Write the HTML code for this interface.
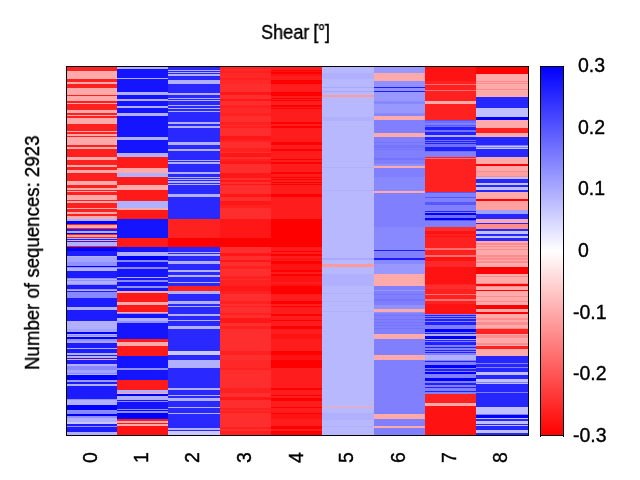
<!DOCTYPE html>
<html><head><meta charset="utf-8">
<style>
html,body{margin:0;padding:0;background:#fff;}
body{width:640px;height:480px;position:relative;overflow:hidden;font-family:"Liberation Sans",sans-serif;color:#000;}
svg{position:absolute;left:0;top:0;}
.t{position:absolute;white-space:nowrap;font-size:19.5px;line-height:1;will-change:transform;-webkit-text-stroke:0.35px #000;}
.xl{position:absolute;white-space:nowrap;font-size:19.5px;line-height:1;transform-origin:0 0;transform:rotate(-90deg);will-change:transform;-webkit-text-stroke:0.35px #000;}
</style></head><body>
<svg width="640" height="480" viewBox="0 0 640 480" shape-rendering="crispEdges">
<defs><linearGradient id="cb" x1="0" y1="0" x2="0" y2="1">
<stop offset="0" stop-color="#0000ff"/><stop offset="0.5" stop-color="#ffffff"/><stop offset="1" stop-color="#ff0000"/>
</linearGradient>
</defs>
<g>
<rect x="67" y="67" width="50" height="4" fill="#ff2020"/>
<rect x="67" y="71" width="50" height="8" fill="#ffaaaa"/>
<rect x="67" y="79" width="50" height="3" fill="#ff2020"/>
<rect x="67" y="82" width="50" height="2" fill="#ffaaaa"/>
<rect x="67" y="84" width="50" height="4" fill="#ff2020"/>
<rect x="67" y="88" width="50" height="7" fill="#ffaaaa"/>
<rect x="67" y="95" width="50" height="1" fill="#ff2020"/>
<rect x="67" y="96" width="50" height="5" fill="#ffaaaa"/>
<rect x="67" y="101" width="50" height="2" fill="#ff2020"/>
<rect x="67" y="103" width="50" height="1" fill="#ffaaaa"/>
<rect x="67" y="104" width="50" height="6" fill="#ff2020"/>
<rect x="67" y="110" width="50" height="3" fill="#ffaaaa"/>
<rect x="67" y="113" width="50" height="2" fill="#ff2020"/>
<rect x="67" y="115" width="50" height="1" fill="#ffaaaa"/>
<rect x="67" y="116" width="50" height="2" fill="#ff2020"/>
<rect x="67" y="118" width="50" height="6" fill="#ffaaaa"/>
<rect x="67" y="124" width="50" height="7" fill="#ff2020"/>
<rect x="67" y="131" width="50" height="1" fill="#ffaaaa"/>
<rect x="67" y="132" width="50" height="2" fill="#ff2020"/>
<rect x="67" y="134" width="50" height="2" fill="#ffaaaa"/>
<rect x="67" y="136" width="50" height="1" fill="#ff2020"/>
<rect x="67" y="137" width="50" height="8" fill="#ffaaaa"/>
<rect x="67" y="145" width="50" height="2" fill="#ff2020"/>
<rect x="67" y="147" width="50" height="2" fill="#ffaaaa"/>
<rect x="67" y="149" width="50" height="8" fill="#ff2020"/>
<rect x="67" y="157" width="50" height="3" fill="#ffaaaa"/>
<rect x="67" y="160" width="50" height="5" fill="#ff2020"/>
<rect x="67" y="165" width="50" height="2" fill="#ffaaaa"/>
<rect x="67" y="167" width="50" height="3" fill="#ff2020"/>
<rect x="67" y="170" width="50" height="3" fill="#ffaaaa"/>
<rect x="67" y="173" width="50" height="8" fill="#ff2020"/>
<rect x="67" y="181" width="50" height="4" fill="#ffaaaa"/>
<rect x="67" y="185" width="50" height="3" fill="#ff2020"/>
<rect x="67" y="188" width="50" height="2" fill="#ffaaaa"/>
<rect x="67" y="190" width="50" height="1" fill="#ff2020"/>
<rect x="67" y="191" width="50" height="1" fill="#ffaaaa"/>
<rect x="67" y="192" width="50" height="3" fill="#ff2020"/>
<rect x="67" y="195" width="50" height="5" fill="#ffaaaa"/>
<rect x="67" y="200" width="50" height="1" fill="#ff2020"/>
<rect x="67" y="201" width="50" height="2" fill="#ffaaaa"/>
<rect x="67" y="203" width="50" height="5" fill="#ff2020"/>
<rect x="67" y="208" width="50" height="1" fill="#ffaaaa"/>
<rect x="67" y="209" width="50" height="3" fill="#ff2020"/>
<rect x="67" y="212" width="50" height="2" fill="#ffaaaa"/>
<rect x="67" y="214" width="50" height="2" fill="#ff2020"/>
<rect x="67" y="216" width="50" height="3" fill="#ffaaaa"/>
<rect x="67" y="219" width="50" height="2" fill="#b0b0ff"/>
<rect x="67" y="221" width="50" height="3" fill="#0000ff"/>
<rect x="67" y="224" width="50" height="1" fill="#ff2020"/>
<rect x="67" y="225" width="50" height="3" fill="#ffaaaa"/>
<rect x="67" y="228" width="50" height="1" fill="#ff2020"/>
<rect x="67" y="229" width="50" height="2" fill="#1c1cff"/>
<rect x="67" y="231" width="50" height="2" fill="#b0b0ff"/>
<rect x="67" y="233" width="50" height="1" fill="#0000ff"/>
<rect x="67" y="234" width="50" height="1" fill="#ff2020"/>
<rect x="67" y="235" width="50" height="2" fill="#ffaaaa"/>
<rect x="67" y="237" width="50" height="1" fill="#ff2020"/>
<rect x="67" y="238" width="50" height="1" fill="#b0b0ff"/>
<rect x="67" y="239" width="50" height="1" fill="#1c1cff"/>
<rect x="67" y="240" width="50" height="1" fill="#ffaaaa"/>
<rect x="67" y="241" width="50" height="1" fill="#1c1cff"/>
<rect x="67" y="242" width="50" height="4" fill="#b0b0ff"/>
<rect x="67" y="246" width="50" height="1" fill="#ff2020"/>
<rect x="67" y="247" width="50" height="4" fill="#0000ff"/>
<rect x="67" y="251" width="50" height="5" fill="#1c1cff"/>
<rect x="67" y="256" width="50" height="1" fill="#b0b0ff"/>
<rect x="67" y="257" width="50" height="5" fill="#a4a4ff"/>
<rect x="67" y="262" width="50" height="4" fill="#9090ff"/>
<rect x="67" y="266" width="50" height="1" fill="#0000ff"/>
<rect x="67" y="267" width="50" height="1" fill="#9090ff"/>
<rect x="67" y="268" width="50" height="3" fill="#b0b0ff"/>
<rect x="67" y="271" width="50" height="7" fill="#1c1cff"/>
<rect x="67" y="278" width="50" height="1" fill="#9090ff"/>
<rect x="67" y="279" width="50" height="1" fill="#b0b0ff"/>
<rect x="67" y="280" width="50" height="1" fill="#9090ff"/>
<rect x="67" y="281" width="50" height="3" fill="#b0b0ff"/>
<rect x="67" y="284" width="50" height="1" fill="#9090ff"/>
<rect x="67" y="285" width="50" height="4" fill="#1c1cff"/>
<rect x="67" y="289" width="50" height="1" fill="#9090ff"/>
<rect x="67" y="290" width="50" height="1" fill="#b0b0ff"/>
<rect x="67" y="291" width="50" height="1" fill="#1c1cff"/>
<rect x="67" y="292" width="50" height="6" fill="#8888ff"/>
<rect x="67" y="298" width="50" height="9" fill="#1c1cff"/>
<rect x="67" y="307" width="50" height="3" fill="#b0b0ff"/>
<rect x="67" y="310" width="50" height="11" fill="#1c1cff"/>
<rect x="67" y="321" width="50" height="8" fill="#b0b0ff"/>
<rect x="67" y="329" width="50" height="3" fill="#a4a4ff"/>
<rect x="67" y="332" width="50" height="2" fill="#0000ff"/>
<rect x="67" y="334" width="50" height="1" fill="#b0b0ff"/>
<rect x="67" y="335" width="50" height="1" fill="#9090ff"/>
<rect x="67" y="336" width="50" height="1" fill="#b0b0ff"/>
<rect x="67" y="337" width="50" height="2" fill="#0000ff"/>
<rect x="67" y="339" width="50" height="2" fill="#9090ff"/>
<rect x="67" y="341" width="50" height="2" fill="#a4a4ff"/>
<rect x="67" y="343" width="50" height="5" fill="#1c1cff"/>
<rect x="67" y="348" width="50" height="1" fill="#b0b0ff"/>
<rect x="67" y="349" width="50" height="4" fill="#1c1cff"/>
<rect x="67" y="353" width="50" height="2" fill="#b0b0ff"/>
<rect x="67" y="355" width="50" height="1" fill="#1c1cff"/>
<rect x="67" y="356" width="50" height="2" fill="#b0b0ff"/>
<rect x="67" y="358" width="50" height="1" fill="#1c1cff"/>
<rect x="67" y="359" width="50" height="1" fill="#ffaaaa"/>
<rect x="67" y="360" width="50" height="4" fill="#1c1cff"/>
<rect x="67" y="364" width="50" height="2" fill="#b0b0ff"/>
<rect x="67" y="366" width="50" height="4" fill="#8888ff"/>
<rect x="67" y="370" width="50" height="3" fill="#a4a4ff"/>
<rect x="67" y="373" width="50" height="1" fill="#8888ff"/>
<rect x="67" y="374" width="50" height="1" fill="#b0b0ff"/>
<rect x="67" y="375" width="50" height="5" fill="#0000ff"/>
<rect x="67" y="380" width="50" height="2" fill="#9898ff"/>
<rect x="67" y="382" width="50" height="2" fill="#1c1cff"/>
<rect x="67" y="384" width="50" height="2" fill="#b0b0ff"/>
<rect x="67" y="386" width="50" height="13" fill="#1c1cff"/>
<rect x="67" y="399" width="50" height="1" fill="#9090ff"/>
<rect x="67" y="400" width="50" height="5" fill="#b0b0ff"/>
<rect x="67" y="405" width="50" height="5" fill="#0000ff"/>
<rect x="67" y="410" width="50" height="1" fill="#9090ff"/>
<rect x="67" y="411" width="50" height="3" fill="#8888ff"/>
<rect x="67" y="414" width="50" height="2" fill="#0000ff"/>
<rect x="67" y="416" width="50" height="2" fill="#9090ff"/>
<rect x="67" y="418" width="50" height="4" fill="#b0b0ff"/>
<rect x="67" y="422" width="50" height="2" fill="#c8c8ff"/>
<rect x="67" y="424" width="50" height="2" fill="#1c1cff"/>
<rect x="67" y="426" width="50" height="1" fill="#9090ff"/>
<rect x="67" y="427" width="50" height="5" fill="#1c1cff"/>
<rect x="67" y="432" width="50" height="3" fill="#b0b0ff"/>
<rect x="117" y="67" width="51" height="2" fill="#b0b0ff"/>
<rect x="117" y="69" width="51" height="9" fill="#1414ff"/>
<rect x="117" y="78" width="51" height="1" fill="#b0b0ff"/>
<rect x="117" y="79" width="51" height="13" fill="#1414ff"/>
<rect x="117" y="92" width="51" height="3" fill="#b0b0ff"/>
<rect x="117" y="95" width="51" height="4" fill="#1414ff"/>
<rect x="117" y="99" width="51" height="2" fill="#b0b0ff"/>
<rect x="117" y="101" width="51" height="5" fill="#1414ff"/>
<rect x="117" y="106" width="51" height="2" fill="#b0b0ff"/>
<rect x="117" y="108" width="51" height="5" fill="#1414ff"/>
<rect x="117" y="113" width="51" height="3" fill="#b0b0ff"/>
<rect x="117" y="116" width="51" height="21" fill="#1414ff"/>
<rect x="117" y="137" width="51" height="3" fill="#b0b0ff"/>
<rect x="117" y="140" width="51" height="13" fill="#1414ff"/>
<rect x="117" y="153" width="51" height="4" fill="#b0b0ff"/>
<rect x="117" y="157" width="51" height="11" fill="#ff1a1a"/>
<rect x="117" y="168" width="51" height="5" fill="#ffaaaa"/>
<rect x="117" y="173" width="51" height="4" fill="#b0b0ff"/>
<rect x="117" y="177" width="51" height="8" fill="#ff1a1a"/>
<rect x="117" y="185" width="51" height="5" fill="#ffaaaa"/>
<rect x="117" y="190" width="51" height="11" fill="#ff1a1a"/>
<rect x="117" y="201" width="51" height="7" fill="#b0b0ff"/>
<rect x="117" y="208" width="51" height="2" fill="#ffaaaa"/>
<rect x="117" y="210" width="51" height="9" fill="#ff1a1a"/>
<rect x="117" y="219" width="51" height="19" fill="#1414ff"/>
<rect x="117" y="238" width="51" height="9" fill="#ff1a1a"/>
<rect x="117" y="247" width="51" height="5" fill="#1414ff"/>
<rect x="117" y="252" width="51" height="4" fill="#b0b0ff"/>
<rect x="117" y="256" width="51" height="4" fill="#0000ff"/>
<rect x="117" y="260" width="51" height="2" fill="#8888ff"/>
<rect x="117" y="262" width="51" height="5" fill="#1414ff"/>
<rect x="117" y="267" width="51" height="2" fill="#8888ff"/>
<rect x="117" y="269" width="51" height="8" fill="#1414ff"/>
<rect x="117" y="277" width="51" height="1" fill="#b0b0ff"/>
<rect x="117" y="278" width="51" height="2" fill="#1414ff"/>
<rect x="117" y="280" width="51" height="2" fill="#8888ff"/>
<rect x="117" y="282" width="51" height="4" fill="#1414ff"/>
<rect x="117" y="286" width="51" height="2" fill="#9090ff"/>
<rect x="117" y="288" width="51" height="3" fill="#1414ff"/>
<rect x="117" y="291" width="51" height="2" fill="#ffaaaa"/>
<rect x="117" y="293" width="51" height="9" fill="#ff1a1a"/>
<rect x="117" y="302" width="51" height="3" fill="#ffaaaa"/>
<rect x="117" y="305" width="51" height="7" fill="#ff1a1a"/>
<rect x="117" y="312" width="51" height="1" fill="#ffaaaa"/>
<rect x="117" y="313" width="51" height="1" fill="#9090ff"/>
<rect x="117" y="314" width="51" height="4" fill="#1414ff"/>
<rect x="117" y="318" width="51" height="3" fill="#b0b0ff"/>
<rect x="117" y="321" width="51" height="2" fill="#9090ff"/>
<rect x="117" y="323" width="51" height="16" fill="#1414ff"/>
<rect x="117" y="339" width="51" height="3" fill="#ff1a1a"/>
<rect x="117" y="342" width="51" height="4" fill="#ffaaaa"/>
<rect x="117" y="346" width="51" height="10" fill="#ff1a1a"/>
<rect x="117" y="356" width="51" height="12" fill="#1414ff"/>
<rect x="117" y="368" width="51" height="2" fill="#9090ff"/>
<rect x="117" y="370" width="51" height="10" fill="#1414ff"/>
<rect x="117" y="380" width="51" height="10" fill="#ff1a1a"/>
<rect x="117" y="390" width="51" height="3" fill="#b0b0ff"/>
<rect x="117" y="393" width="51" height="1" fill="#ffaaaa"/>
<rect x="117" y="394" width="51" height="2" fill="#0000ff"/>
<rect x="117" y="396" width="51" height="4" fill="#b0b0ff"/>
<rect x="117" y="400" width="51" height="1" fill="#1414ff"/>
<rect x="117" y="401" width="51" height="1" fill="#9090ff"/>
<rect x="117" y="402" width="51" height="7" fill="#1414ff"/>
<rect x="117" y="409" width="51" height="1" fill="#9090ff"/>
<rect x="117" y="410" width="51" height="1" fill="#0000ff"/>
<rect x="117" y="411" width="51" height="2" fill="#9090ff"/>
<rect x="117" y="413" width="51" height="6" fill="#0000ff"/>
<rect x="117" y="419" width="51" height="2" fill="#ff1a1a"/>
<rect x="117" y="421" width="51" height="2" fill="#ffaaaa"/>
<rect x="117" y="423" width="51" height="1" fill="#ff1a1a"/>
<rect x="117" y="424" width="51" height="2" fill="#ffaaaa"/>
<rect x="117" y="426" width="51" height="9" fill="#ff1212"/>
<rect x="168" y="67" width="52" height="3" fill="#2828ff"/>
<rect x="168" y="70" width="52" height="1" fill="#b0b0ff"/>
<rect x="168" y="71" width="52" height="1" fill="#2828ff"/>
<rect x="168" y="72" width="52" height="1" fill="#b0b0ff"/>
<rect x="168" y="73" width="52" height="1" fill="#2828ff"/>
<rect x="168" y="74" width="52" height="2" fill="#b0b0ff"/>
<rect x="168" y="76" width="52" height="4" fill="#2828ff"/>
<rect x="168" y="80" width="52" height="4" fill="#b0b0ff"/>
<rect x="168" y="84" width="52" height="9" fill="#2828ff"/>
<rect x="168" y="93" width="52" height="2" fill="#b0b0ff"/>
<rect x="168" y="95" width="52" height="3" fill="#2828ff"/>
<rect x="168" y="98" width="52" height="1" fill="#b0b0ff"/>
<rect x="168" y="99" width="52" height="1" fill="#2828ff"/>
<rect x="168" y="100" width="52" height="1" fill="#b0b0ff"/>
<rect x="168" y="101" width="52" height="4" fill="#2828ff"/>
<rect x="168" y="105" width="52" height="1" fill="#b0b0ff"/>
<rect x="168" y="106" width="52" height="2" fill="#2828ff"/>
<rect x="168" y="108" width="52" height="1" fill="#b0b0ff"/>
<rect x="168" y="109" width="52" height="2" fill="#2828ff"/>
<rect x="168" y="111" width="52" height="1" fill="#b0b0ff"/>
<rect x="168" y="112" width="52" height="10" fill="#2828ff"/>
<rect x="168" y="122" width="52" height="2" fill="#b0b0ff"/>
<rect x="168" y="124" width="52" height="2" fill="#2828ff"/>
<rect x="168" y="126" width="52" height="2" fill="#b0b0ff"/>
<rect x="168" y="128" width="52" height="14" fill="#2828ff"/>
<rect x="168" y="142" width="52" height="3" fill="#b0b0ff"/>
<rect x="168" y="145" width="52" height="4" fill="#2828ff"/>
<rect x="168" y="149" width="52" height="2" fill="#b0b0ff"/>
<rect x="168" y="151" width="52" height="9" fill="#2828ff"/>
<rect x="168" y="160" width="52" height="1" fill="#b0b0ff"/>
<rect x="168" y="161" width="52" height="1" fill="#2828ff"/>
<rect x="168" y="162" width="52" height="2" fill="#b0b0ff"/>
<rect x="168" y="164" width="52" height="8" fill="#2828ff"/>
<rect x="168" y="172" width="52" height="2" fill="#b0b0ff"/>
<rect x="168" y="174" width="52" height="3" fill="#2828ff"/>
<rect x="168" y="177" width="52" height="1" fill="#b0b0ff"/>
<rect x="168" y="178" width="52" height="1" fill="#2828ff"/>
<rect x="168" y="179" width="52" height="1" fill="#b0b0ff"/>
<rect x="168" y="180" width="52" height="1" fill="#2828ff"/>
<rect x="168" y="181" width="52" height="2" fill="#b0b0ff"/>
<rect x="168" y="183" width="52" height="1" fill="#2828ff"/>
<rect x="168" y="184" width="52" height="1" fill="#b0b0ff"/>
<rect x="168" y="185" width="52" height="9" fill="#2828ff"/>
<rect x="168" y="194" width="52" height="3" fill="#b0b0ff"/>
<rect x="168" y="197" width="52" height="22" fill="#2828ff"/>
<rect x="168" y="219" width="52" height="19" fill="#ff2020"/>
<rect x="168" y="238" width="52" height="9" fill="#ff0000"/>
<rect x="168" y="247" width="52" height="5" fill="#2828ff"/>
<rect x="168" y="252" width="52" height="1" fill="#b0b0ff"/>
<rect x="168" y="253" width="52" height="1" fill="#2828ff"/>
<rect x="168" y="254" width="52" height="2" fill="#b0b0ff"/>
<rect x="168" y="256" width="52" height="5" fill="#2828ff"/>
<rect x="168" y="261" width="52" height="3" fill="#b0b0ff"/>
<rect x="168" y="264" width="52" height="6" fill="#2828ff"/>
<rect x="168" y="270" width="52" height="2" fill="#b0b0ff"/>
<rect x="168" y="272" width="52" height="3" fill="#2828ff"/>
<rect x="168" y="275" width="52" height="2" fill="#b0b0ff"/>
<rect x="168" y="277" width="52" height="5" fill="#2828ff"/>
<rect x="168" y="282" width="52" height="1" fill="#b0b0ff"/>
<rect x="168" y="283" width="52" height="3" fill="#2828ff"/>
<rect x="168" y="286" width="52" height="5" fill="#ff2020"/>
<rect x="168" y="291" width="52" height="3" fill="#b0b0ff"/>
<rect x="168" y="294" width="52" height="7" fill="#2828ff"/>
<rect x="168" y="301" width="52" height="3" fill="#b0b0ff"/>
<rect x="168" y="304" width="52" height="2" fill="#2828ff"/>
<rect x="168" y="306" width="52" height="1" fill="#b0b0ff"/>
<rect x="168" y="307" width="52" height="7" fill="#2828ff"/>
<rect x="168" y="314" width="52" height="2" fill="#b0b0ff"/>
<rect x="168" y="316" width="52" height="4" fill="#2828ff"/>
<rect x="168" y="320" width="52" height="1" fill="#b0b0ff"/>
<rect x="168" y="321" width="52" height="5" fill="#2828ff"/>
<rect x="168" y="326" width="52" height="3" fill="#b0b0ff"/>
<rect x="168" y="329" width="52" height="22" fill="#2828ff"/>
<rect x="168" y="351" width="52" height="4" fill="#c8c8ff"/>
<rect x="168" y="355" width="52" height="5" fill="#2828ff"/>
<rect x="168" y="360" width="52" height="8" fill="#b0b0ff"/>
<rect x="168" y="368" width="52" height="20" fill="#2828ff"/>
<rect x="168" y="388" width="52" height="2" fill="#b0b0ff"/>
<rect x="168" y="390" width="52" height="5" fill="#2828ff"/>
<rect x="168" y="395" width="52" height="1" fill="#b0b0ff"/>
<rect x="168" y="396" width="52" height="2" fill="#2828ff"/>
<rect x="168" y="398" width="52" height="3" fill="#b0b0ff"/>
<rect x="168" y="401" width="52" height="6" fill="#2828ff"/>
<rect x="168" y="407" width="52" height="1" fill="#b0b0ff"/>
<rect x="168" y="408" width="52" height="5" fill="#2828ff"/>
<rect x="168" y="413" width="52" height="1" fill="#b0b0ff"/>
<rect x="168" y="414" width="52" height="14" fill="#2828ff"/>
<rect x="168" y="428" width="52" height="2" fill="#b0b0ff"/>
<rect x="168" y="430" width="52" height="1" fill="#2828ff"/>
<rect x="168" y="431" width="52" height="4" fill="#c8c8ff"/>
<rect x="220" y="67" width="51" height="2" fill="#ff2020"/>
<rect x="220" y="69" width="51" height="2" fill="#ff2828"/>
<rect x="220" y="71" width="51" height="2" fill="#ff2020"/>
<rect x="220" y="73" width="51" height="5" fill="#ff2828"/>
<rect x="220" y="78" width="51" height="2" fill="#ff2020"/>
<rect x="220" y="80" width="51" height="4" fill="#ff2828"/>
<rect x="220" y="84" width="51" height="8" fill="#ff2e2e"/>
<rect x="220" y="92" width="51" height="3" fill="#ff1616"/>
<rect x="220" y="95" width="51" height="4" fill="#ff2e2e"/>
<rect x="220" y="99" width="51" height="2" fill="#ff1616"/>
<rect x="220" y="101" width="51" height="4" fill="#ff2e2e"/>
<rect x="220" y="105" width="51" height="3" fill="#ff2020"/>
<rect x="220" y="108" width="51" height="5" fill="#ff2828"/>
<rect x="220" y="113" width="51" height="3" fill="#ff2020"/>
<rect x="220" y="116" width="51" height="6" fill="#ff2e2e"/>
<rect x="220" y="122" width="51" height="3" fill="#ff2020"/>
<rect x="220" y="125" width="51" height="1" fill="#ff2e2e"/>
<rect x="220" y="126" width="51" height="2" fill="#ff2020"/>
<rect x="220" y="128" width="51" height="8" fill="#ff2e2e"/>
<rect x="220" y="136" width="51" height="4" fill="#ff1616"/>
<rect x="220" y="140" width="51" height="2" fill="#ff2020"/>
<rect x="220" y="142" width="51" height="6" fill="#ff2e2e"/>
<rect x="220" y="148" width="51" height="4" fill="#ff2020"/>
<rect x="220" y="152" width="51" height="1" fill="#ff2e2e"/>
<rect x="220" y="153" width="51" height="4" fill="#ff1616"/>
<rect x="220" y="157" width="51" height="2" fill="#ff2e2e"/>
<rect x="220" y="159" width="51" height="2" fill="#ff2020"/>
<rect x="220" y="161" width="51" height="3" fill="#ff1616"/>
<rect x="220" y="164" width="51" height="9" fill="#ff2e2e"/>
<rect x="220" y="173" width="51" height="5" fill="#ff1616"/>
<rect x="220" y="178" width="51" height="2" fill="#ff2e2e"/>
<rect x="220" y="180" width="51" height="2" fill="#ff1616"/>
<rect x="220" y="182" width="51" height="2" fill="#ff2e2e"/>
<rect x="220" y="184" width="51" height="1" fill="#ff1616"/>
<rect x="220" y="185" width="51" height="9" fill="#ff2e2e"/>
<rect x="220" y="194" width="51" height="3" fill="#ff1616"/>
<rect x="220" y="197" width="51" height="4" fill="#ff2e2e"/>
<rect x="220" y="201" width="51" height="4" fill="#ff1616"/>
<rect x="220" y="205" width="51" height="3" fill="#ff2020"/>
<rect x="220" y="208" width="51" height="11" fill="#ff2e2e"/>
<rect x="220" y="219" width="51" height="19" fill="#ff1616"/>
<rect x="220" y="238" width="51" height="9" fill="#ff0000"/>
<rect x="220" y="247" width="51" height="6" fill="#ff2e2e"/>
<rect x="220" y="253" width="51" height="3" fill="#ff1616"/>
<rect x="220" y="256" width="51" height="4" fill="#ff2e2e"/>
<rect x="220" y="260" width="51" height="2" fill="#ff1616"/>
<rect x="220" y="262" width="51" height="4" fill="#ff2e2e"/>
<rect x="220" y="266" width="51" height="3" fill="#ff2020"/>
<rect x="220" y="269" width="51" height="7" fill="#ff2e2e"/>
<rect x="220" y="276" width="51" height="3" fill="#ff2020"/>
<rect x="220" y="279" width="51" height="1" fill="#ff2e2e"/>
<rect x="220" y="280" width="51" height="6" fill="#ff2020"/>
<rect x="220" y="286" width="51" height="5" fill="#ff1616"/>
<rect x="220" y="291" width="51" height="3" fill="#ff2020"/>
<rect x="220" y="294" width="51" height="7" fill="#ff2e2e"/>
<rect x="220" y="301" width="51" height="3" fill="#ff2020"/>
<rect x="220" y="304" width="51" height="2" fill="#ff2e2e"/>
<rect x="220" y="306" width="51" height="1" fill="#ff2020"/>
<rect x="220" y="307" width="51" height="6" fill="#ff2e2e"/>
<rect x="220" y="313" width="51" height="2" fill="#ff2020"/>
<rect x="220" y="315" width="51" height="3" fill="#ff2e2e"/>
<rect x="220" y="318" width="51" height="5" fill="#ff1616"/>
<rect x="220" y="323" width="51" height="3" fill="#ff2e2e"/>
<rect x="220" y="326" width="51" height="3" fill="#ff2020"/>
<rect x="220" y="329" width="51" height="22" fill="#ff2e2e"/>
<rect x="220" y="351" width="51" height="4" fill="#ff2020"/>
<rect x="220" y="355" width="51" height="5" fill="#ff2e2e"/>
<rect x="220" y="360" width="51" height="8" fill="#ff2828"/>
<rect x="220" y="368" width="51" height="2" fill="#ff2020"/>
<rect x="220" y="370" width="51" height="18" fill="#ff2e2e"/>
<rect x="220" y="388" width="51" height="5" fill="#ff2020"/>
<rect x="220" y="393" width="51" height="4" fill="#ff2e2e"/>
<rect x="220" y="397" width="51" height="3" fill="#ff1616"/>
<rect x="220" y="400" width="51" height="8" fill="#ff2e2e"/>
<rect x="220" y="408" width="51" height="2" fill="#ff2020"/>
<rect x="220" y="410" width="51" height="1" fill="#ff2e2e"/>
<rect x="220" y="411" width="51" height="2" fill="#ff2020"/>
<rect x="220" y="413" width="51" height="14" fill="#ff2e2e"/>
<rect x="220" y="427" width="51" height="2" fill="#ff2020"/>
<rect x="220" y="429" width="51" height="2" fill="#ff2e2e"/>
<rect x="220" y="431" width="51" height="4" fill="#ff2020"/>
<rect x="271" y="67" width="51" height="3" fill="#ff1c1c"/>
<rect x="271" y="70" width="51" height="1" fill="#ff0000"/>
<rect x="271" y="71" width="51" height="1" fill="#ff1212"/>
<rect x="271" y="72" width="51" height="2" fill="#ff0000"/>
<rect x="271" y="74" width="51" height="2" fill="#ff1212"/>
<rect x="271" y="76" width="51" height="4" fill="#ff1c1c"/>
<rect x="271" y="80" width="51" height="4" fill="#ff0000"/>
<rect x="271" y="84" width="51" height="8" fill="#ff1c1c"/>
<rect x="271" y="92" width="51" height="4" fill="#ff0000"/>
<rect x="271" y="96" width="51" height="2" fill="#ff1c1c"/>
<rect x="271" y="98" width="51" height="1" fill="#ff0000"/>
<rect x="271" y="99" width="51" height="1" fill="#ff1c1c"/>
<rect x="271" y="100" width="51" height="1" fill="#ff0000"/>
<rect x="271" y="101" width="51" height="4" fill="#ff1c1c"/>
<rect x="271" y="105" width="51" height="2" fill="#ff0000"/>
<rect x="271" y="107" width="51" height="1" fill="#ff1c1c"/>
<rect x="271" y="108" width="51" height="1" fill="#ff0000"/>
<rect x="271" y="109" width="51" height="13" fill="#ff1c1c"/>
<rect x="271" y="122" width="51" height="2" fill="#ff0000"/>
<rect x="271" y="124" width="51" height="2" fill="#ff1c1c"/>
<rect x="271" y="126" width="51" height="2" fill="#ff0000"/>
<rect x="271" y="128" width="51" height="14" fill="#ff1c1c"/>
<rect x="271" y="142" width="51" height="3" fill="#ff0000"/>
<rect x="271" y="145" width="51" height="4" fill="#ff1c1c"/>
<rect x="271" y="149" width="51" height="2" fill="#ff0000"/>
<rect x="271" y="151" width="51" height="8" fill="#ff1c1c"/>
<rect x="271" y="159" width="51" height="1" fill="#ff0000"/>
<rect x="271" y="160" width="51" height="2" fill="#ff1c1c"/>
<rect x="271" y="162" width="51" height="2" fill="#ff0000"/>
<rect x="271" y="164" width="51" height="8" fill="#ff1c1c"/>
<rect x="271" y="172" width="51" height="2" fill="#ff0000"/>
<rect x="271" y="174" width="51" height="3" fill="#ff1c1c"/>
<rect x="271" y="177" width="51" height="1" fill="#ff0000"/>
<rect x="271" y="178" width="51" height="1" fill="#ff1c1c"/>
<rect x="271" y="179" width="51" height="1" fill="#ff0000"/>
<rect x="271" y="180" width="51" height="2" fill="#ff1c1c"/>
<rect x="271" y="182" width="51" height="1" fill="#ff0000"/>
<rect x="271" y="183" width="51" height="1" fill="#ff1c1c"/>
<rect x="271" y="184" width="51" height="1" fill="#ff0000"/>
<rect x="271" y="185" width="51" height="9" fill="#ff1c1c"/>
<rect x="271" y="194" width="51" height="3" fill="#ff0000"/>
<rect x="271" y="197" width="51" height="22" fill="#ff1c1c"/>
<rect x="271" y="219" width="51" height="28" fill="#ff0000"/>
<rect x="271" y="247" width="51" height="4" fill="#ff1c1c"/>
<rect x="271" y="251" width="51" height="1" fill="#ff0000"/>
<rect x="271" y="252" width="51" height="2" fill="#ff1c1c"/>
<rect x="271" y="254" width="51" height="2" fill="#ff0000"/>
<rect x="271" y="256" width="51" height="2" fill="#ff1c1c"/>
<rect x="271" y="258" width="51" height="2" fill="#ff1212"/>
<rect x="271" y="260" width="51" height="1" fill="#ff1c1c"/>
<rect x="271" y="261" width="51" height="3" fill="#ff0000"/>
<rect x="271" y="264" width="51" height="6" fill="#ff1212"/>
<rect x="271" y="270" width="51" height="2" fill="#ff0000"/>
<rect x="271" y="272" width="51" height="2" fill="#ff1c1c"/>
<rect x="271" y="274" width="51" height="2" fill="#ff0000"/>
<rect x="271" y="276" width="51" height="6" fill="#ff1212"/>
<rect x="271" y="282" width="51" height="2" fill="#ff1c1c"/>
<rect x="271" y="284" width="51" height="2" fill="#ff1212"/>
<rect x="271" y="286" width="51" height="8" fill="#ff0000"/>
<rect x="271" y="294" width="51" height="7" fill="#ff1c1c"/>
<rect x="271" y="301" width="51" height="3" fill="#ff0000"/>
<rect x="271" y="304" width="51" height="2" fill="#ff1c1c"/>
<rect x="271" y="306" width="51" height="1" fill="#ff0000"/>
<rect x="271" y="307" width="51" height="7" fill="#ff1c1c"/>
<rect x="271" y="314" width="51" height="2" fill="#ff0000"/>
<rect x="271" y="316" width="51" height="4" fill="#ff1c1c"/>
<rect x="271" y="320" width="51" height="1" fill="#ff0000"/>
<rect x="271" y="321" width="51" height="5" fill="#ff1c1c"/>
<rect x="271" y="326" width="51" height="3" fill="#ff0000"/>
<rect x="271" y="329" width="51" height="5" fill="#ff1c1c"/>
<rect x="271" y="334" width="51" height="5" fill="#ff1212"/>
<rect x="271" y="339" width="51" height="12" fill="#ff1c1c"/>
<rect x="271" y="351" width="51" height="4" fill="#ff0000"/>
<rect x="271" y="355" width="51" height="5" fill="#ff1212"/>
<rect x="271" y="360" width="51" height="8" fill="#ff0000"/>
<rect x="271" y="368" width="51" height="20" fill="#ff1c1c"/>
<rect x="271" y="388" width="51" height="2" fill="#ff0000"/>
<rect x="271" y="390" width="51" height="5" fill="#ff1c1c"/>
<rect x="271" y="395" width="51" height="1" fill="#ff0000"/>
<rect x="271" y="396" width="51" height="2" fill="#ff1c1c"/>
<rect x="271" y="398" width="51" height="3" fill="#ff0000"/>
<rect x="271" y="401" width="51" height="6" fill="#ff1c1c"/>
<rect x="271" y="407" width="51" height="1" fill="#ff0000"/>
<rect x="271" y="408" width="51" height="5" fill="#ff1c1c"/>
<rect x="271" y="413" width="51" height="1" fill="#ff0000"/>
<rect x="271" y="414" width="51" height="5" fill="#ff1212"/>
<rect x="271" y="419" width="51" height="7" fill="#ff1c1c"/>
<rect x="271" y="426" width="51" height="3" fill="#ff0000"/>
<rect x="271" y="429" width="51" height="2" fill="#ff1c1c"/>
<rect x="271" y="431" width="51" height="4" fill="#ff0000"/>
<rect x="322" y="67" width="52" height="6" fill="#b8b8ff"/>
<rect x="322" y="73" width="52" height="6" fill="#b0b0ff"/>
<rect x="322" y="79" width="52" height="8" fill="#b8b8ff"/>
<rect x="322" y="87" width="52" height="1" fill="#a8a8ff"/>
<rect x="322" y="88" width="52" height="3" fill="#b8b8ff"/>
<rect x="322" y="91" width="52" height="1" fill="#a8a8ff"/>
<rect x="322" y="92" width="52" height="3" fill="#b8b8ff"/>
<rect x="322" y="95" width="52" height="2" fill="#ff9a9a"/>
<rect x="322" y="97" width="52" height="20" fill="#b8b8ff"/>
<rect x="322" y="117" width="52" height="4" fill="#b0b0ff"/>
<rect x="322" y="121" width="52" height="46" fill="#b8b8ff"/>
<rect x="322" y="167" width="52" height="1" fill="#b0b0ff"/>
<rect x="322" y="168" width="52" height="22" fill="#b8b8ff"/>
<rect x="322" y="190" width="52" height="1" fill="#b0b0ff"/>
<rect x="322" y="191" width="52" height="67" fill="#b8b8ff"/>
<rect x="322" y="258" width="52" height="2" fill="#a8a8ff"/>
<rect x="322" y="260" width="52" height="4" fill="#b8b8ff"/>
<rect x="322" y="264" width="52" height="3" fill="#ff9a9a"/>
<rect x="322" y="267" width="52" height="7" fill="#b8b8ff"/>
<rect x="322" y="274" width="52" height="12" fill="#b0b0ff"/>
<rect x="322" y="286" width="52" height="7" fill="#b8b8ff"/>
<rect x="322" y="293" width="52" height="1" fill="#b0b0ff"/>
<rect x="322" y="294" width="52" height="7" fill="#b8b8ff"/>
<rect x="322" y="301" width="52" height="1" fill="#b0b0ff"/>
<rect x="322" y="302" width="52" height="9" fill="#b8b8ff"/>
<rect x="322" y="311" width="52" height="1" fill="#b0b0ff"/>
<rect x="322" y="312" width="52" height="94" fill="#b8b8ff"/>
<rect x="322" y="406" width="52" height="1" fill="#ffa8a8"/>
<rect x="322" y="407" width="52" height="6" fill="#b8b8ff"/>
<rect x="322" y="413" width="52" height="7" fill="#b0b0ff"/>
<rect x="322" y="420" width="52" height="6" fill="#b8b8ff"/>
<rect x="322" y="426" width="52" height="1" fill="#b0b0ff"/>
<rect x="322" y="427" width="52" height="8" fill="#b8b8ff"/>
<rect x="374" y="67" width="51" height="6" fill="#9898ff"/>
<rect x="374" y="73" width="51" height="8" fill="#ffaaaa"/>
<rect x="374" y="81" width="51" height="6" fill="#9090ff"/>
<rect x="374" y="87" width="51" height="1" fill="#1c1cff"/>
<rect x="374" y="88" width="51" height="3" fill="#9090ff"/>
<rect x="374" y="91" width="51" height="1" fill="#1c1cff"/>
<rect x="374" y="92" width="51" height="9" fill="#9898ff"/>
<rect x="374" y="101" width="51" height="3" fill="#8888ff"/>
<rect x="374" y="104" width="51" height="9" fill="#9898ff"/>
<rect x="374" y="113" width="51" height="3" fill="#8888ff"/>
<rect x="374" y="116" width="51" height="4" fill="#ffaaaa"/>
<rect x="374" y="120" width="51" height="13" fill="#8080ff"/>
<rect x="374" y="133" width="51" height="4" fill="#ffaaaa"/>
<rect x="374" y="137" width="51" height="5" fill="#8080ff"/>
<rect x="374" y="142" width="51" height="1" fill="#7474ff"/>
<rect x="374" y="143" width="51" height="2" fill="#8080ff"/>
<rect x="374" y="145" width="51" height="3" fill="#7474ff"/>
<rect x="374" y="148" width="51" height="1" fill="#8080ff"/>
<rect x="374" y="149" width="51" height="1" fill="#7474ff"/>
<rect x="374" y="150" width="51" height="8" fill="#8080ff"/>
<rect x="374" y="158" width="51" height="2" fill="#7474ff"/>
<rect x="374" y="160" width="51" height="4" fill="#8080ff"/>
<rect x="374" y="164" width="51" height="2" fill="#9090ff"/>
<rect x="374" y="166" width="51" height="2" fill="#ffaaaa"/>
<rect x="374" y="168" width="51" height="9" fill="#8080ff"/>
<rect x="374" y="177" width="51" height="14" fill="#8888ff"/>
<rect x="374" y="191" width="51" height="2" fill="#ffaaaa"/>
<rect x="374" y="193" width="51" height="34" fill="#8080ff"/>
<rect x="374" y="227" width="51" height="23" fill="#8888ff"/>
<rect x="374" y="250" width="51" height="1" fill="#1c1cff"/>
<rect x="374" y="251" width="51" height="7" fill="#8080ff"/>
<rect x="374" y="258" width="51" height="2" fill="#1c1cff"/>
<rect x="374" y="260" width="51" height="4" fill="#8888ff"/>
<rect x="374" y="264" width="51" height="10" fill="#9898ff"/>
<rect x="374" y="274" width="51" height="12" fill="#ffaaaa"/>
<rect x="374" y="286" width="51" height="4" fill="#8080ff"/>
<rect x="374" y="290" width="51" height="1" fill="#9898ff"/>
<rect x="374" y="291" width="51" height="3" fill="#8080ff"/>
<rect x="374" y="294" width="51" height="1" fill="#7474ff"/>
<rect x="374" y="295" width="51" height="4" fill="#8080ff"/>
<rect x="374" y="299" width="51" height="2" fill="#7474ff"/>
<rect x="374" y="301" width="51" height="4" fill="#8080ff"/>
<rect x="374" y="305" width="51" height="4" fill="#9090ff"/>
<rect x="374" y="309" width="51" height="3" fill="#ffaaaa"/>
<rect x="374" y="312" width="51" height="1" fill="#9090ff"/>
<rect x="374" y="313" width="51" height="2" fill="#8080ff"/>
<rect x="374" y="315" width="51" height="1" fill="#7474ff"/>
<rect x="374" y="316" width="51" height="3" fill="#8080ff"/>
<rect x="374" y="319" width="51" height="1" fill="#7474ff"/>
<rect x="374" y="320" width="51" height="2" fill="#8080ff"/>
<rect x="374" y="322" width="51" height="1" fill="#7474ff"/>
<rect x="374" y="323" width="51" height="2" fill="#8080ff"/>
<rect x="374" y="325" width="51" height="1" fill="#7474ff"/>
<rect x="374" y="326" width="51" height="2" fill="#8080ff"/>
<rect x="374" y="328" width="51" height="1" fill="#7474ff"/>
<rect x="374" y="329" width="51" height="5" fill="#8080ff"/>
<rect x="374" y="334" width="51" height="5" fill="#ffaaaa"/>
<rect x="374" y="339" width="51" height="16" fill="#8080ff"/>
<rect x="374" y="355" width="51" height="5" fill="#ffaaaa"/>
<rect x="374" y="360" width="51" height="54" fill="#8080ff"/>
<rect x="374" y="414" width="51" height="5" fill="#ffaaaa"/>
<rect x="374" y="419" width="51" height="7" fill="#8080ff"/>
<rect x="374" y="426" width="51" height="2" fill="#ffaaaa"/>
<rect x="374" y="428" width="51" height="7" fill="#8080ff"/>
<rect x="425" y="67" width="51" height="14" fill="#ff1212"/>
<rect x="425" y="81" width="51" height="3" fill="#ff2020"/>
<rect x="425" y="84" width="51" height="1" fill="#ff7070"/>
<rect x="425" y="85" width="51" height="5" fill="#ff2020"/>
<rect x="425" y="90" width="51" height="1" fill="#ff7070"/>
<rect x="425" y="91" width="51" height="10" fill="#ff2020"/>
<rect x="425" y="101" width="51" height="3" fill="#ffaaaa"/>
<rect x="425" y="104" width="51" height="16" fill="#ff2020"/>
<rect x="425" y="120" width="51" height="1" fill="#5858ff"/>
<rect x="425" y="121" width="51" height="2" fill="#7070ff"/>
<rect x="425" y="123" width="51" height="2" fill="#8080ff"/>
<rect x="425" y="125" width="51" height="1" fill="#5858ff"/>
<rect x="425" y="126" width="51" height="1" fill="#7070ff"/>
<rect x="425" y="127" width="51" height="3" fill="#2222ff"/>
<rect x="425" y="130" width="51" height="2" fill="#7070ff"/>
<rect x="425" y="132" width="51" height="3" fill="#2222ff"/>
<rect x="425" y="135" width="51" height="2" fill="#b0b0ff"/>
<rect x="425" y="137" width="51" height="3" fill="#2222ff"/>
<rect x="425" y="140" width="51" height="1" fill="#7070ff"/>
<rect x="425" y="141" width="51" height="1" fill="#2222ff"/>
<rect x="425" y="142" width="51" height="1" fill="#7070ff"/>
<rect x="425" y="143" width="51" height="1" fill="#2222ff"/>
<rect x="425" y="144" width="51" height="3" fill="#7070ff"/>
<rect x="425" y="147" width="51" height="4" fill="#2222ff"/>
<rect x="425" y="151" width="51" height="1" fill="#7070ff"/>
<rect x="425" y="152" width="51" height="5" fill="#8080ff"/>
<rect x="425" y="157" width="51" height="1" fill="#ff2020"/>
<rect x="425" y="158" width="51" height="1" fill="#ff7070"/>
<rect x="425" y="159" width="51" height="33" fill="#ff2020"/>
<rect x="425" y="192" width="51" height="1" fill="#5858ff"/>
<rect x="425" y="193" width="51" height="4" fill="#8080ff"/>
<rect x="425" y="197" width="51" height="1" fill="#5858ff"/>
<rect x="425" y="198" width="51" height="4" fill="#8080ff"/>
<rect x="425" y="202" width="51" height="3" fill="#5858ff"/>
<rect x="425" y="205" width="51" height="6" fill="#8080ff"/>
<rect x="425" y="211" width="51" height="1" fill="#2222ff"/>
<rect x="425" y="212" width="51" height="1" fill="#8080ff"/>
<rect x="425" y="213" width="51" height="2" fill="#0000ff"/>
<rect x="425" y="215" width="51" height="3" fill="#7070ff"/>
<rect x="425" y="218" width="51" height="2" fill="#0000ff"/>
<rect x="425" y="220" width="51" height="1" fill="#5858ff"/>
<rect x="425" y="221" width="51" height="6" fill="#8080ff"/>
<rect x="425" y="227" width="51" height="4" fill="#ff2e2e"/>
<rect x="425" y="231" width="51" height="3" fill="#ff1212"/>
<rect x="425" y="234" width="51" height="2" fill="#ff2020"/>
<rect x="425" y="236" width="51" height="1" fill="#ff1212"/>
<rect x="425" y="237" width="51" height="11" fill="#ff2020"/>
<rect x="425" y="248" width="51" height="2" fill="#ff7070"/>
<rect x="425" y="250" width="51" height="5" fill="#ff2020"/>
<rect x="425" y="255" width="51" height="2" fill="#ff7070"/>
<rect x="425" y="257" width="51" height="4" fill="#ff1212"/>
<rect x="425" y="261" width="51" height="6" fill="#ff2828"/>
<rect x="425" y="267" width="51" height="17" fill="#ff1212"/>
<rect x="425" y="284" width="51" height="1" fill="#ff2020"/>
<rect x="425" y="285" width="51" height="4" fill="#ff2e2e"/>
<rect x="425" y="289" width="51" height="5" fill="#ff2020"/>
<rect x="425" y="294" width="51" height="1" fill="#ff7070"/>
<rect x="425" y="295" width="51" height="4" fill="#ff2020"/>
<rect x="425" y="299" width="51" height="2" fill="#ff7070"/>
<rect x="425" y="301" width="51" height="3" fill="#ff2020"/>
<rect x="425" y="304" width="51" height="10" fill="#ff1212"/>
<rect x="425" y="314" width="51" height="1" fill="#8080ff"/>
<rect x="425" y="315" width="51" height="1" fill="#2222ff"/>
<rect x="425" y="316" width="51" height="1" fill="#8080ff"/>
<rect x="425" y="317" width="51" height="1" fill="#2222ff"/>
<rect x="425" y="318" width="51" height="1" fill="#8080ff"/>
<rect x="425" y="319" width="51" height="2" fill="#2222ff"/>
<rect x="425" y="321" width="51" height="1" fill="#8080ff"/>
<rect x="425" y="322" width="51" height="3" fill="#2222ff"/>
<rect x="425" y="325" width="51" height="4" fill="#8080ff"/>
<rect x="425" y="329" width="51" height="3" fill="#0000ff"/>
<rect x="425" y="332" width="51" height="1" fill="#8080ff"/>
<rect x="425" y="333" width="51" height="1" fill="#2222ff"/>
<rect x="425" y="334" width="51" height="2" fill="#b0b0ff"/>
<rect x="425" y="336" width="51" height="3" fill="#0000ff"/>
<rect x="425" y="339" width="51" height="1" fill="#b0b0ff"/>
<rect x="425" y="340" width="51" height="1" fill="#2222ff"/>
<rect x="425" y="341" width="51" height="1" fill="#8080ff"/>
<rect x="425" y="342" width="51" height="3" fill="#2222ff"/>
<rect x="425" y="345" width="51" height="2" fill="#8080ff"/>
<rect x="425" y="347" width="51" height="1" fill="#2222ff"/>
<rect x="425" y="348" width="51" height="2" fill="#8080ff"/>
<rect x="425" y="350" width="51" height="1" fill="#2222ff"/>
<rect x="425" y="351" width="51" height="1" fill="#8080ff"/>
<rect x="425" y="352" width="51" height="1" fill="#2222ff"/>
<rect x="425" y="353" width="51" height="2" fill="#8080ff"/>
<rect x="425" y="355" width="51" height="5" fill="#b0b0ff"/>
<rect x="425" y="360" width="51" height="1" fill="#8080ff"/>
<rect x="425" y="361" width="51" height="1" fill="#2222ff"/>
<rect x="425" y="362" width="51" height="3" fill="#8080ff"/>
<rect x="425" y="365" width="51" height="3" fill="#0000ff"/>
<rect x="425" y="368" width="51" height="1" fill="#8080ff"/>
<rect x="425" y="369" width="51" height="2" fill="#2222ff"/>
<rect x="425" y="371" width="51" height="1" fill="#8080ff"/>
<rect x="425" y="372" width="51" height="2" fill="#0000ff"/>
<rect x="425" y="374" width="51" height="4" fill="#8080ff"/>
<rect x="425" y="378" width="51" height="3" fill="#0000ff"/>
<rect x="425" y="381" width="51" height="2" fill="#8080ff"/>
<rect x="425" y="383" width="51" height="2" fill="#2222ff"/>
<rect x="425" y="385" width="51" height="2" fill="#8080ff"/>
<rect x="425" y="387" width="51" height="1" fill="#2222ff"/>
<rect x="425" y="388" width="51" height="3" fill="#8080ff"/>
<rect x="425" y="391" width="51" height="1" fill="#2222ff"/>
<rect x="425" y="392" width="51" height="2" fill="#8080ff"/>
<rect x="425" y="394" width="51" height="9" fill="#ff2020"/>
<rect x="425" y="403" width="51" height="3" fill="#ffaaaa"/>
<rect x="425" y="406" width="51" height="29" fill="#ff1212"/>
<rect x="476" y="67" width="52" height="7" fill="#ff0000"/>
<rect x="476" y="74" width="52" height="7" fill="#ffaaaa"/>
<rect x="476" y="81" width="52" height="1" fill="#ff8c8c"/>
<rect x="476" y="82" width="52" height="1" fill="#ffaaaa"/>
<rect x="476" y="83" width="52" height="1" fill="#ff8c8c"/>
<rect x="476" y="84" width="52" height="5" fill="#ffaaaa"/>
<rect x="476" y="89" width="52" height="1" fill="#ff8c8c"/>
<rect x="476" y="90" width="52" height="7" fill="#ffaaaa"/>
<rect x="476" y="97" width="52" height="11" fill="#2626ff"/>
<rect x="476" y="108" width="52" height="9" fill="#c0c0ff"/>
<rect x="476" y="117" width="52" height="3" fill="#0000ff"/>
<rect x="476" y="120" width="52" height="8" fill="#ffaaaa"/>
<rect x="476" y="128" width="52" height="5" fill="#ff2020"/>
<rect x="476" y="133" width="52" height="4" fill="#ffaaaa"/>
<rect x="476" y="137" width="52" height="8" fill="#2626ff"/>
<rect x="476" y="145" width="52" height="1" fill="#8080ff"/>
<rect x="476" y="146" width="52" height="1" fill="#c0c0ff"/>
<rect x="476" y="147" width="52" height="1" fill="#8080ff"/>
<rect x="476" y="148" width="52" height="1" fill="#c0c0ff"/>
<rect x="476" y="149" width="52" height="8" fill="#2626ff"/>
<rect x="476" y="157" width="52" height="7" fill="#ffaaaa"/>
<rect x="476" y="164" width="52" height="2" fill="#ff0000"/>
<rect x="476" y="166" width="52" height="5" fill="#ffaaaa"/>
<rect x="476" y="171" width="52" height="1" fill="#ff8c8c"/>
<rect x="476" y="172" width="52" height="4" fill="#ffa0a0"/>
<rect x="476" y="176" width="52" height="1" fill="#ff8c8c"/>
<rect x="476" y="177" width="52" height="2" fill="#c0c0ff"/>
<rect x="476" y="179" width="52" height="4" fill="#2626ff"/>
<rect x="476" y="183" width="52" height="2" fill="#c0c0ff"/>
<rect x="476" y="185" width="52" height="2" fill="#2626ff"/>
<rect x="476" y="187" width="52" height="3" fill="#c0c0ff"/>
<rect x="476" y="190" width="52" height="2" fill="#2626ff"/>
<rect x="476" y="192" width="52" height="7" fill="#ffaaaa"/>
<rect x="476" y="199" width="52" height="2" fill="#ff0000"/>
<rect x="476" y="201" width="52" height="9" fill="#ffa0a0"/>
<rect x="476" y="210" width="52" height="4" fill="#a0a0ff"/>
<rect x="476" y="214" width="52" height="5" fill="#2626ff"/>
<rect x="476" y="219" width="52" height="4" fill="#ffaaaa"/>
<rect x="476" y="223" width="52" height="1" fill="#2626ff"/>
<rect x="476" y="224" width="52" height="5" fill="#ff8c8c"/>
<rect x="476" y="229" width="52" height="2" fill="#2626ff"/>
<rect x="476" y="231" width="52" height="3" fill="#c0c0ff"/>
<rect x="476" y="234" width="52" height="2" fill="#2626ff"/>
<rect x="476" y="236" width="52" height="2" fill="#c0c0ff"/>
<rect x="476" y="238" width="52" height="3" fill="#2626ff"/>
<rect x="476" y="241" width="52" height="2" fill="#ffaaaa"/>
<rect x="476" y="243" width="52" height="2" fill="#ff8c8c"/>
<rect x="476" y="245" width="52" height="1" fill="#ffaaaa"/>
<rect x="476" y="246" width="52" height="1" fill="#ff8c8c"/>
<rect x="476" y="247" width="52" height="2" fill="#ffaaaa"/>
<rect x="476" y="249" width="52" height="1" fill="#ff8c8c"/>
<rect x="476" y="250" width="52" height="5" fill="#ffaaaa"/>
<rect x="476" y="255" width="52" height="2" fill="#ff8c8c"/>
<rect x="476" y="257" width="52" height="1" fill="#ffa0a0"/>
<rect x="476" y="258" width="52" height="2" fill="#ff8c8c"/>
<rect x="476" y="260" width="52" height="1" fill="#ffaaaa"/>
<rect x="476" y="261" width="52" height="2" fill="#ff8c8c"/>
<rect x="476" y="263" width="52" height="4" fill="#ffaaaa"/>
<rect x="476" y="267" width="52" height="7" fill="#ff0000"/>
<rect x="476" y="274" width="52" height="2" fill="#ffaaaa"/>
<rect x="476" y="276" width="52" height="1" fill="#ff8c8c"/>
<rect x="476" y="277" width="52" height="6" fill="#ffaaaa"/>
<rect x="476" y="283" width="52" height="1" fill="#ff8c8c"/>
<rect x="476" y="284" width="52" height="2" fill="#ff0000"/>
<rect x="476" y="286" width="52" height="1" fill="#ff8c8c"/>
<rect x="476" y="287" width="52" height="3" fill="#ffaaaa"/>
<rect x="476" y="290" width="52" height="1" fill="#ff0000"/>
<rect x="476" y="291" width="52" height="5" fill="#ffaaaa"/>
<rect x="476" y="296" width="52" height="1" fill="#ff8c8c"/>
<rect x="476" y="297" width="52" height="4" fill="#ffaaaa"/>
<rect x="476" y="301" width="52" height="1" fill="#ff8c8c"/>
<rect x="476" y="302" width="52" height="3" fill="#ffaaaa"/>
<rect x="476" y="305" width="52" height="4" fill="#ff0000"/>
<rect x="476" y="309" width="52" height="3" fill="#ffaaaa"/>
<rect x="476" y="312" width="52" height="2" fill="#ff0000"/>
<rect x="476" y="314" width="52" height="4" fill="#ffaaaa"/>
<rect x="476" y="318" width="52" height="2" fill="#ff8c8c"/>
<rect x="476" y="320" width="52" height="2" fill="#ffaaaa"/>
<rect x="476" y="322" width="52" height="3" fill="#ff8c8c"/>
<rect x="476" y="325" width="52" height="3" fill="#ffaaaa"/>
<rect x="476" y="328" width="52" height="1" fill="#ff8c8c"/>
<rect x="476" y="329" width="52" height="5" fill="#ff2020"/>
<rect x="476" y="334" width="52" height="1" fill="#ffaaaa"/>
<rect x="476" y="335" width="52" height="3" fill="#ff8c8c"/>
<rect x="476" y="338" width="52" height="5" fill="#ffaaaa"/>
<rect x="476" y="343" width="52" height="2" fill="#ff8c8c"/>
<rect x="476" y="345" width="52" height="1" fill="#ffaaaa"/>
<rect x="476" y="346" width="52" height="3" fill="#ff2020"/>
<rect x="476" y="349" width="52" height="7" fill="#ffaaaa"/>
<rect x="476" y="356" width="52" height="7" fill="#2626ff"/>
<rect x="476" y="363" width="52" height="1" fill="#8080ff"/>
<rect x="476" y="364" width="52" height="3" fill="#2626ff"/>
<rect x="476" y="367" width="52" height="1" fill="#8080ff"/>
<rect x="476" y="368" width="52" height="4" fill="#2626ff"/>
<rect x="476" y="372" width="52" height="3" fill="#c0c0ff"/>
<rect x="476" y="375" width="52" height="4" fill="#2626ff"/>
<rect x="476" y="379" width="52" height="3" fill="#c0c0ff"/>
<rect x="476" y="382" width="52" height="1" fill="#8080ff"/>
<rect x="476" y="383" width="52" height="1" fill="#c0c0ff"/>
<rect x="476" y="384" width="52" height="8" fill="#2626ff"/>
<rect x="476" y="392" width="52" height="1" fill="#8080ff"/>
<rect x="476" y="393" width="52" height="14" fill="#2626ff"/>
<rect x="476" y="407" width="52" height="7" fill="#c0c0ff"/>
<rect x="476" y="414" width="52" height="1" fill="#8080ff"/>
<rect x="476" y="415" width="52" height="3" fill="#0000ff"/>
<rect x="476" y="418" width="52" height="1" fill="#c0c0ff"/>
<rect x="476" y="419" width="52" height="2" fill="#2626ff"/>
<rect x="476" y="421" width="52" height="3" fill="#c0c0ff"/>
<rect x="476" y="424" width="52" height="1" fill="#2626ff"/>
<rect x="476" y="425" width="52" height="1" fill="#c0c0ff"/>
<rect x="476" y="426" width="52" height="4" fill="#2626ff"/>
<rect x="476" y="430" width="52" height="3" fill="#c0c0ff"/>
<rect x="476" y="433" width="52" height="2" fill="#2626ff"/>
</g>
<rect x="66.5" y="66.5" width="462" height="369" fill="none" stroke="#000" stroke-width="1"/>
<rect x="540.5" y="66.5" width="23" height="369" fill="url(#cb)" stroke="#000" stroke-width="1"/>
<rect x="540" y="436" width="1" height="1" fill="#000"/><rect x="563" y="436" width="1" height="1" fill="#000"/>
</svg>
<div class="t" style="left:261px;top:23px;transform:scaleX(0.93);transform-origin:0 0;">Shear<span style="margin-left:-0.9px;letter-spacing:-0.35px"> [°]</span></div>
<div class="t" style="left:578px;top:55.5px;">0.3</div>
<div class="t" style="left:578px;top:117.5px;">0.2</div>
<div class="t" style="left:578px;top:178.5px;">0.1</div>
<div class="t" style="left:578px;top:240.5px;">0</div>
<div class="t" style="left:573px;top:302.5px;">-0.1</div>
<div class="t" style="left:573px;top:363.5px;">-0.2</div>
<div class="t" style="left:573px;top:425.5px;">-0.3</div>
<div class="xl" style="left:22.5px;top:369.5px;transform:rotate(-90deg) scaleX(0.957);">Number of sequences: 2923</div>
<div class="xl" style="left:81px;top:463px;">0</div>
<div class="xl" style="left:132px;top:463px;">1</div>
<div class="xl" style="left:183px;top:463px;">2</div>
<div class="xl" style="left:235px;top:463px;">3</div>
<div class="xl" style="left:286.5px;top:463px;">4</div>
<div class="xl" style="left:337px;top:463px;">5</div>
<div class="xl" style="left:389px;top:463px;">6</div>
<div class="xl" style="left:440px;top:463px;">7</div>
<div class="xl" style="left:491px;top:463px;">8</div>
</body></html>
